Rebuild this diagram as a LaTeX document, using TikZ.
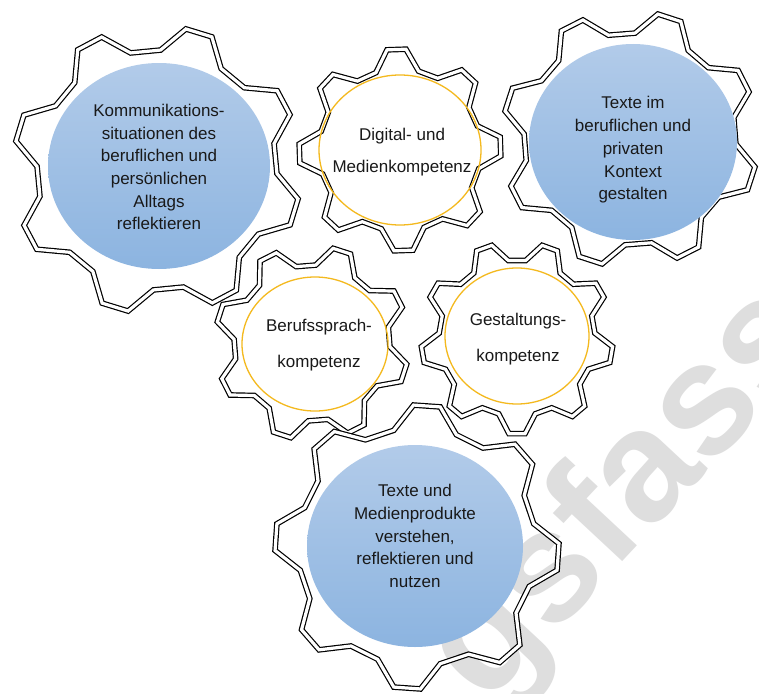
\documentclass[tikz,border=0pt]{standalone}
\usepackage{fontspec}
\setmainfont{Liberation Sans}
\usetikzlibrary{shapes.geometric}

\definecolor{bluetop}{RGB}{178,203,233}
\definecolor{bluebot}{RGB}{140,180,224}
\definecolor{ringyellow}{RGB}{244,185,30}
\definecolor{inktext}{RGB}{25,25,25}
\definecolor{wmgray}{RGB}{222,222,222}

\tikzset{
  gearline/.style = {draw=black, double=white, double distance=3.2pt, line width=1.2pt, line join=miter},
  bluedisc/.style = {ellipse, inner sep=0pt, top color=bluetop, bottom color=bluebot},
  yellowring/.style = {ellipse, inner sep=0pt, draw=ringyellow, line width=1.3pt},
  gearlabel/.style = {align=center, text=inktext, font=\fontsize{17}{22.7}\selectfont},
}

% gear outline: [options]{cx}{cy}{outer r}{root r}{teeth}{angle offset}
\newcommand{\gear}[7][]{%
  \draw[gearline, shift={(#2,#3)}, #1]
    ({#7-0.34*360/#6}:#5)
    \foreach \k in {1,...,#6} {
      -- ({#7+(\k-1)*360/#6-0.12*360/#6}:#4)
      -- ({#7+(\k-1)*360/#6+0.12*360/#6}:#4)
      -- ({#7+(\k-1)*360/#6+0.34*360/#6}:#5)
      -- ({#7+\k*360/#6-0.34*360/#6}:#5)
    } -- cycle;
}

\begin{document}
\begin{tikzpicture}[x=1pt, y=-1pt]

        \useasboundingbox (0,0) rectangle (759,693);
        \clip (0,0) rectangle (759,693);
        \fill[white] (0,0) rectangle (759,693);

        % watermark
        \node[rotate=47, text=wmgray, font=\fontsize{158}{158}\selectfont\bfseries] (wmark) at (628,497) {gsfass};

        % gears
        \gear{157}{170}{144}{120}{8}{-28}
        \gear{400}{150}{101}{81}{8}{-2}
        \gear{630}{139}{128}{106}{8}{-27}
        \gear{312}{343}{97}{78}{8}{-27}
        \gear{517}{338}{96}{78}{9}{10}
        \gear{417}{547}{142}{119}{8}{4}

        % discs
        \node[bluedisc, minimum width=222pt, minimum height=206pt] (komm) at (159,166) {};
        \node[yellowring, minimum width=162pt, minimum height=150pt] (digital) at (400,150) {};
        \node[bluedisc, minimum width=208pt, minimum height=196pt] (kontext) at (633,142) {};
        \node[yellowring, minimum width=146pt, minimum height=134pt] (beruf) at (315,344) {};
        \node[yellowring, minimum width=144pt, minimum height=136pt] (gestalt) at (517,336) {};
        \node[bluedisc, minimum width=216pt, minimum height=202pt] (medien) at (415,546) {};

        % labels
        \node[gearlabel] (kommtext) at (159,167) {Kommunikations-\\situationen des\\beruflichen und\\persönlichen\\Alltags\\reflektieren};
        \node[gearlabel] (digitaltext) at (402,152) {Digital- und\\[10pt]Medienkompetenz};
        \node[gearlabel] (kontexttext) at (633,150) {Texte im\\beruflichen und\\privaten\\Kontext\\gestalten};
        \node[gearlabel] (beruftext) at (319,345) {Berufssprach-\\[13pt]kompetenz};
        \node[gearlabel] (gestalttext) at (518,339) {Gestaltungs-\\[13pt]kompetenz};
        \node[gearlabel] (medientext) at (415,536) {Texte und\\Medienprodukte\\verstehen,\\reflektieren und\\nutzen};

\end{tikzpicture}
\end{document}
